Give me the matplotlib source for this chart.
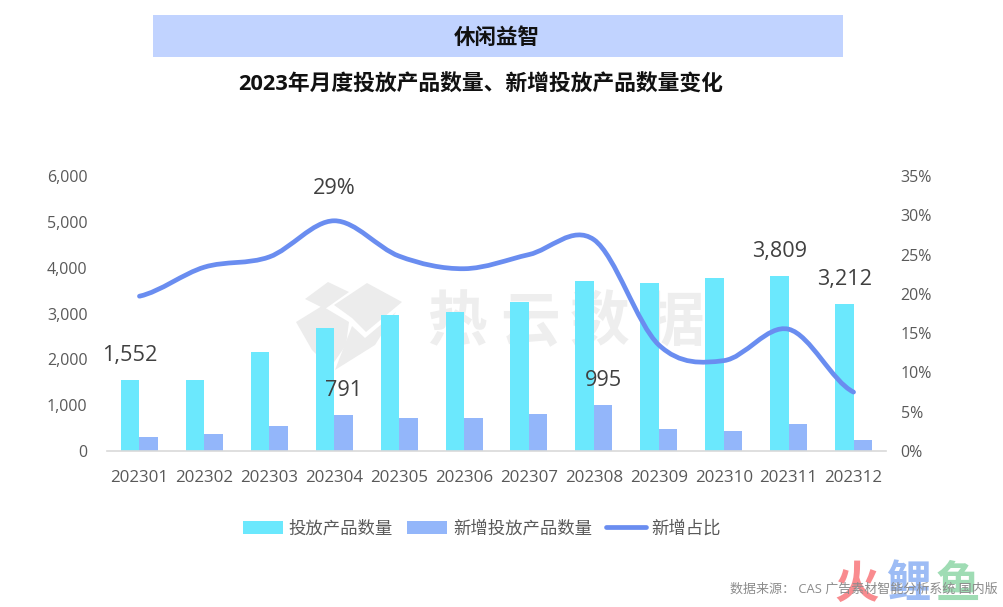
import matplotlib
matplotlib.use('Agg')
import matplotlib.pyplot as plt
import numpy as np
from matplotlib.lines import Line2D
from matplotlib.patches import PathPatch, Polygon, Rectangle
from matplotlib.path import Path

plt.rcParams['font.family'] = ['Open Sans', 'Noto Sans CJK SC', 'DejaVu Sans']

months = ['202301', '202302', '202303', '202304', '202305', '202306',
          '202307', '202308', '202309', '202310', '202311', '202312']
launched = [1552, 1560, 2170, 2680, 2970, 3030, 3250, 3700, 3660, 3770, 3809, 3212]
new_launched = [300, 370, 540, 791, 730, 710, 810, 995, 490, 440, 590, 230]
new_share = [19.7, 23.4, 24.7, 29.3, 24.8, 23.2, 25.0, 26.9, 13.5, 11.5, 15.5, 7.5]
left_ticks = [0, 1000, 2000, 3000, 4000, 5000, 6000]
right_ticks = [0, 5, 10, 15, 20, 25, 30, 35]

W, H = 1004, 607
CYAN = '#6be8fd'
BLUE = '#93b6fa'
LINE = '#6a8df0'
TXT = '#595959'
LABEL = '#404040'


def fx(x):
    return x / W


def fy(y):
    return 1 - y / H


def logo_piece(points):
    pts = [(fx(x), fy(y)) for x, y in points]
    fig.add_artist(Polygon(pts, closed=True, transform=fig.transFigure,
                           facecolor='#ececec', edgecolor='none', zorder=-2))


fig = plt.figure(figsize=(W / 100, H / 100), dpi=100, facecolor='white')

# title band
fig.add_artist(Rectangle((fx(153), fy(57)), 690 / W, 42 / H, transform=fig.transFigure,
                         facecolor='#c1d3ff', edgecolor='none', zorder=-3))
fig.text(fx(497), fy(38), '休闲益智', fontsize=15.5, fontweight='bold', color='#111111',
         ha='center', va='center')
fig.text(fx(481), fy(85), '2023年月度投放产品数量、新增投放产品数量变化', fontsize=15.7,
         fontweight='bold', color='#111111', ha='center', va='center')

# watermark
logo_piece([(305, 299), (328, 282), (349, 292), (325, 309)])
logo_piece([(334, 305), (367, 283), (402, 302), (366, 332), (352, 318)])
logo_piece([(296, 322), (322, 306), (349, 322), (346, 345), (330, 368), (312, 350)])
logo_piece([(352, 326), (365, 338), (396, 312), (375, 345), (335, 370)])
for wx, ch in zip([457, 530, 600, 675], '热云数据'):
    fig.text(fx(wx), fy(325), ch, fontsize=43, fontweight='bold', color='#eeeeee',
             ha='center', va='center', zorder=-2)

ax = fig.add_axes([fx(107), fy(451), 779 / W, 275 / H])
ax.patch.set_visible(False)
x = np.arange(len(months))
bar_w = 0.285
bars1 = ax.bar(x - bar_w / 2, launched, bar_w, color=CYAN, zorder=2)
bars2 = ax.bar(x + bar_w / 2, new_launched, bar_w, color=BLUE, zorder=2)
ax.set_xlim(-0.5, len(months) - 0.5)
ax.set_ylim(0, 6000)
ax.set_xticks(x, months)
ax.set_yticks(left_ticks, [f'{v:,}' for v in left_ticks])
ax.tick_params(axis='x', length=0, labelsize=12.2, labelcolor=TXT, pad=13.6)
ax.tick_params(axis='y', length=0, labelsize=11.5, labelcolor=TXT, pad=14)
for side in ['top', 'left', 'right']:
    ax.spines[side].set_visible(False)
ax.spines['bottom'].set_color('#d9d9d9')
ax.spines['bottom'].set_linewidth(1.2)

ax2 = ax.twinx()
ax2.set_ylim(0, 35)
ax2.set_yticks(right_ticks, [f'{v}%' for v in right_ticks])
ax2.tick_params(axis='y', length=0, labelsize=11.5, labelcolor=TXT, pad=10.5)
for side in ['top', 'left', 'right', 'bottom']:
    ax2.spines[side].set_visible(False)

# smoothed line like the spreadsheet chart, cubic segments through the values
y = np.array(new_share)
verts = [(x[0], y[0])]
codes = [Path.MOVETO]
for i in range(len(x) - 1):
    y0 = y[max(i - 1, 0)]
    y3 = y[min(i + 2, len(y) - 1)]
    verts += [(x[i] + 1 / 3, y[i] + (y[i + 1] - y0) / 6),
              (x[i + 1] - 1 / 3, y[i + 1] - (y3 - y[i]) / 6),
              (x[i + 1], y[i + 1])]
    codes += [Path.CURVE4, Path.CURVE4, Path.CURVE4]
ax2.add_patch(PathPatch(Path(verts, codes), facecolor='none', edgecolor=LINE,
                        linewidth=3.4, capstyle='round', zorder=3))

# labels sit above the marks
for i in [0, 10, 11]:
    ax.annotate(f'{launched[i]:,}', (x[i] - bar_w / 2, launched[i]), xytext=(0, 17.6),
                textcoords='offset points', ha='center', va='center',
                fontsize=15.6, color=LABEL)
for i in [3, 7]:
    ax.annotate(f'{new_launched[i]:,}', (x[i] + bar_w / 2, new_launched[i]), xytext=(0, 17.6),
                textcoords='offset points', ha='center', va='center',
                fontsize=15.6, color=LABEL)
ax2.annotate('29%', (x[3], new_share[3]), xytext=(0, 23), textcoords='offset points',
             ha='center', va='center', fontsize=15.6, color=LABEL)

handles = [Rectangle((0, 0), 1, 1, facecolor=CYAN), Rectangle((0, 0), 1, 1, facecolor=BLUE),
           Line2D([0], [0], color=LINE, linewidth=3.4, solid_capstyle='round')]
fig.legend(handles, ['投放产品数量', '新增投放产品数量', '新增占比'], ncol=3, frameon=False,
           loc='center', bbox_to_anchor=(fx(482), fy(529)), fontsize=12.5, labelcolor=TXT,
           handlelength=2.3, handleheight=0.75, handletextpad=0.35, columnspacing=0.8)

# site mark and source note, bottom right
for wx, ch, col in [(857, '火', '#f98b8f'), (908, '鲤', '#9dbcf5'), (958, '鱼', '#9fdcb4')]:
    fig.text(fx(wx), fy(586), ch, fontsize=32, fontweight='bold', color=col,
             ha='center', va='center', zorder=4)
fig.text(fx(998), fy(589), '数据来源： CAS 广告素材智能分析系统 国内版', fontsize=9.4, color='#8c8c8c',
         ha='right', va='center', zorder=5)

fig.savefig('out.png', dpi=100)
